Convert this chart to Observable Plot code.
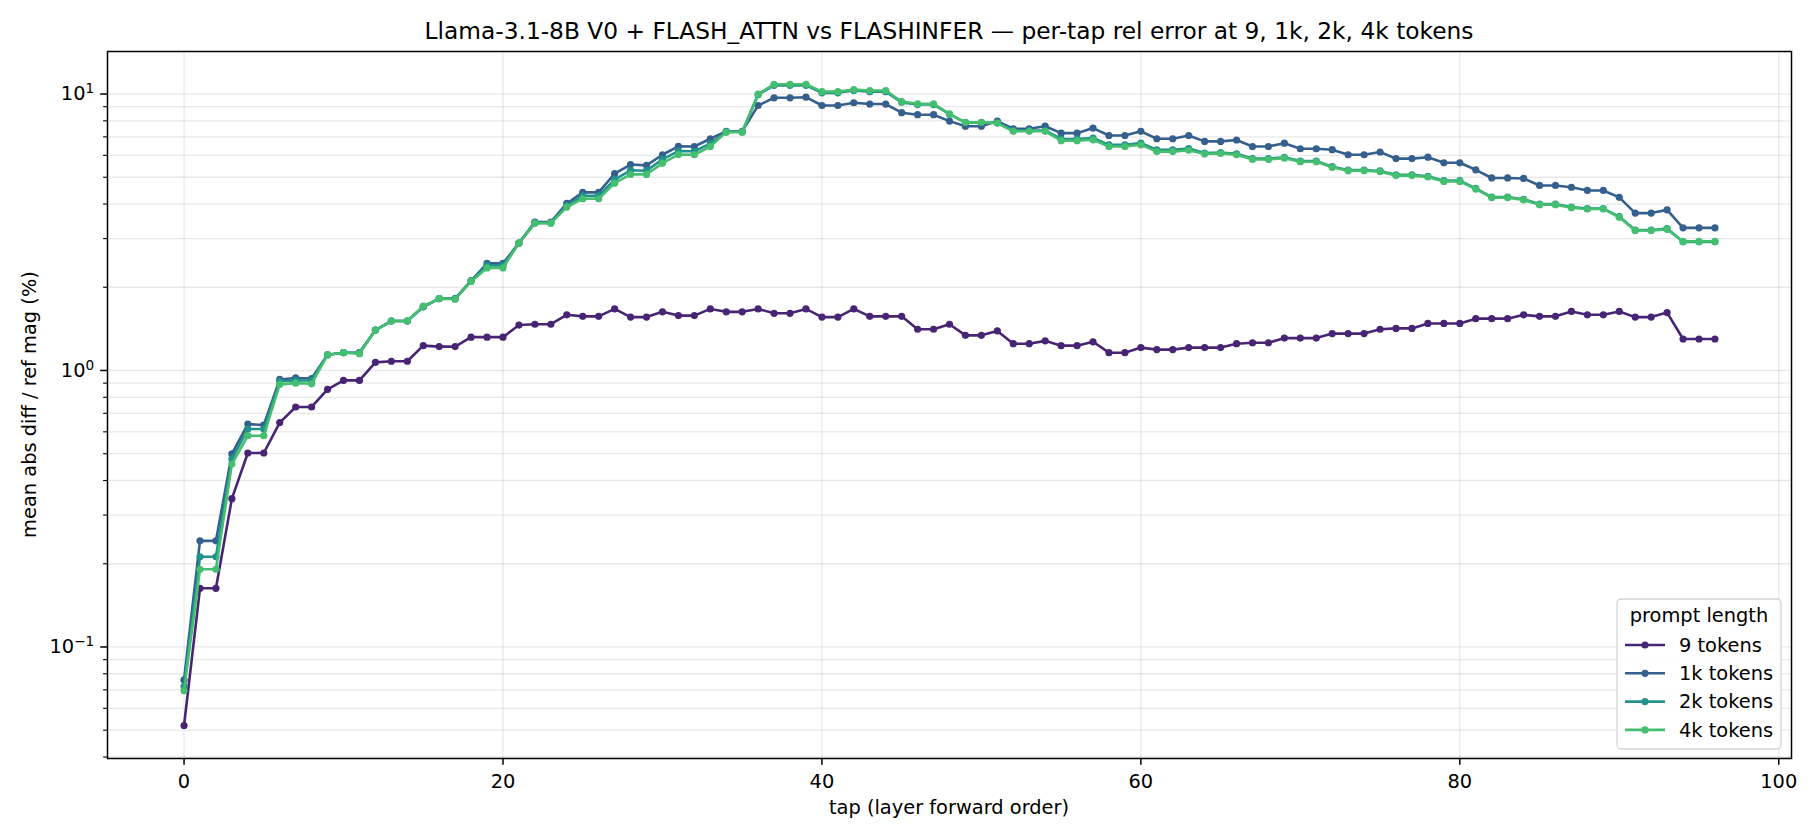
<!DOCTYPE html>
<html><head><meta charset="utf-8">
<script src="https://cdn.jsdelivr.net/npm/d3@7"></script>
<script src="https://cdn.jsdelivr.net/npm/@observablehq/plot@0.6"></script>
<style>body{margin:0;background:#fff} svg{font-family:"DejaVu Sans",sans-serif}</style>
</head><body><div id="chart"></div>
<script>
const seriesNames = ["9 tokens","1k tokens","2k tokens","4k tokens"];
const seriesColors = ["#482475","#355f8d","#21918c","#44bf70"];
const xTicks = [0,20,40,60,80,100];
const yMajor = [0.1,1,10];
const yMinor = [0.04,0.05,0.06,0.07,0.08,0.09,0.2,0.3,0.4,0.5,0.6,0.7,0.8,0.9,2,3,4,5,6,7,8,9];
const yMajorLabels = ["10^−1","10^0","10^1"];

const tok9 = [0.052,0.163,0.163,0.344,0.503,0.503,0.648,0.738,0.738,0.855,0.921,0.921,1.07,1.08,1.08,1.23,1.22,1.22,1.32,1.32,
1.32,1.46,1.47,1.47,1.59,1.57,1.57,1.67,1.56,1.56,1.63,1.58,1.58,1.67,1.63,1.63,1.67,1.61,1.61,1.67,
1.56,1.56,1.67,1.57,1.57,1.57,1.41,1.41,1.47,1.34,1.34,1.39,1.25,1.25,1.28,1.23,1.23,1.27,1.16,1.16,
1.21,1.19,1.19,1.21,1.21,1.21,1.25,1.26,1.26,1.31,1.31,1.31,1.36,1.36,1.36,1.41,1.42,1.42,1.48,1.48,
1.48,1.54,1.54,1.54,1.59,1.57,1.57,1.635,1.59,1.59,1.635,1.56,1.56,1.62,1.30,1.30,1.30];

const tok1k = [0.076,0.242,0.242,0.499,0.64,0.635,0.928,0.94,0.935,1.14,1.16,1.16,1.40,1.51,1.51,1.70,1.82,1.82,2.11,2.44,
2.44,2.89,3.44,3.44,4.02,4.41,4.41,5.15,5.56,5.52,6.03,6.47,6.46,6.89,7.33,7.33,9.09,9.69,9.69,9.74,
9.09,9.09,9.30,9.20,9.20,8.56,8.42,8.42,7.98,7.65,7.65,7.98,7.49,7.49,7.65,7.22,7.22,7.53,7.08,7.08,
7.33,6.89,6.89,7.08,6.74,6.74,6.82,6.46,6.46,6.64,6.34,6.34,6.29,6.03,6.03,6.17,5.84,5.84,5.91,5.64,
5.64,5.32,4.97,4.97,4.95,4.67,4.67,4.60,4.48,4.48,4.23,3.71,3.71,3.81,3.28,3.28,3.28];

const tok2k = [0.072,0.212,0.212,0.479,0.614,0.614,0.914,0.92,0.92,1.14,1.16,1.16,1.40,1.51,1.51,1.70,1.82,1.82,2.11,2.40,
2.40,2.89,3.42,3.42,3.95,4.28,4.28,4.90,5.30,5.28,5.80,6.22,6.21,6.62,7.30,7.30,9.95,10.75,10.75,10.75,
10.1,10.1,10.3,10.2,10.2,9.33,9.16,9.16,8.45,7.88,7.88,7.87,7.38,7.38,7.38,6.88,6.88,6.93,6.55,6.55,
6.65,6.28,6.28,6.35,6.12,6.14,6.08,5.84,5.84,5.90,5.72,5.72,5.46,5.31,5.31,5.27,5.10,5.10,5.04,4.86,
4.86,4.56,4.24,4.24,4.16,4.00,4.00,3.90,3.85,3.85,3.60,3.22,3.22,3.26,2.92,2.92,2.92];

const tok4k = [0.0695,0.191,0.191,0.459,0.581,0.581,0.891,0.90,0.895,1.14,1.16,1.15,1.40,1.51,1.51,1.71,1.82,1.81,2.10,2.35,
2.35,2.89,3.41,3.41,3.90,4.18,4.18,4.76,5.12,5.12,5.62,6.04,6.03,6.46,7.28,7.28,10.0,10.85,10.85,10.85,
10.2,10.2,10.38,10.3,10.3,9.39,9.22,9.22,8.48,7.90,7.90,7.85,7.33,7.33,7.33,6.78,6.78,6.83,6.46,6.46,
6.55,6.19,6.19,6.26,6.07,6.10,6.03,5.80,5.80,5.86,5.69,5.69,5.43,5.28,5.28,5.24,5.07,5.07,5.01,4.83,
4.83,4.53,4.22,4.22,4.14,3.98,3.98,3.88,3.84,3.84,3.58,3.21,3.21,3.24,2.93,2.93,2.93];

const seriesValues = [tok9, tok1k, tok2k, tok4k];
const rows = seriesValues.map((vals, k) => vals.map((v, i) => ({tap: i, value: v, series: seriesNames[k]})));

const seriesMarks = rows.flatMap(r => [
  Plot.line(r, {x: "tap", y: "value", stroke: "series", strokeWidth: 2.6}),
  Plot.dot(r, {x: "tap", y: "value", fill: "series", r: 3.6})
]);

const gridStyle = {stroke: "#000", strokeOpacity: 0.09, strokeWidth: 1.3};
const FS = 19.4;

const svg = Plot.plot({
  width: 1820, height: 840,
  marginLeft: 107, marginRight: 29, marginTop: 51, marginBottom: 82,
  style: {fontFamily: '"DejaVu Sans", sans-serif', fontSize: FS + "px", color: "#000", background: "#fff"},
  x: {domain: [-4.8, 100.8]},
  y: {type: "log", domain: [0.0395, 14.25]},
  color: {domain: seriesNames, range: seriesColors},
  marks: [
    Plot.gridY(yMinor.concat(yMajor), gridStyle),
    Plot.gridX(xTicks, gridStyle),
    ...seriesMarks,
    Plot.frame({stroke: "#000", strokeWidth: 1.5}),
    Plot.axisY(yMinor, {tickSize: 3.9, strokeWidth: 1.1, tickFormat: () => "", label: null}),
    Plot.axisY(yMajor, {tickSize: 6.8, strokeWidth: 1.5, tickPadding: 6.5, fontSize: FS,
      tickFormat: d => yMajorLabels[yMajor.indexOf(d)], label: null}),
    Plot.axisX(xTicks, {tickSize: 6.8, strokeWidth: 1.5, tickPadding: 9, fontSize: FS, label: null})
  ]
});

const s = d3.select(svg);
function supify(node) {
  const t = d3.select(node);
  const tx = t.text();
  if (tx.indexOf("^") > 0) {
    const [base, exp] = tx.split("^");
    t.text(base);
    const parent = node.tagName === "tspan" ? d3.select(node.parentNode) : t;
    parent.append("tspan").attr("dy", "-0.5em").attr("font-size", "13.6px").text(exp);
  }
}
s.selectAll("text").each(function() { if (d3.select(this).selectAll("tspan").empty()) supify(this); });
s.selectAll("tspan").each(function() { supify(this); });

s.append("text").attr("x", 949).attr("y", 39).attr("text-anchor", "middle")
  .attr("font-size", "23.3px").attr("fill", "#000")
  .text("Llama-3.1-8B V0 + FLASH_ATTN vs FLASHINFER — per-tap rel error at 9, 1k, 2k, 4k tokens");
s.append("text").attr("x", 949).attr("y", 814).attr("text-anchor", "middle")
  .attr("font-size", FS + "px").attr("fill", "#000").text("tap (layer forward order)");
s.append("text").attr("transform", "translate(29,404.5) rotate(-90)").attr("text-anchor", "middle")
  .attr("dy", "0.35em").attr("font-size", FS + "px").attr("fill", "#000").text("mean abs diff / ref mag (%)");

// legend
const lg = s.append("g").attr("text-anchor", "start");
lg.append("rect").attr("x", 1617).attr("y", 599).attr("width", 164).attr("height", 150)
  .attr("rx", 4).attr("fill", "#fff").attr("fill-opacity", 0.85).attr("stroke", "#d4d4d4").attr("stroke-width", 1.3);
lg.append("text").attr("x", 1699).attr("y", 622).attr("text-anchor", "middle").attr("font-size", FS + "px")
  .attr("fill", "#000").text("prompt length");
seriesNames.forEach((name, k) => {
  const cy = 645 + k * 28.3;
  lg.append("line").attr("x1", 1625).attr("x2", 1665).attr("y1", cy).attr("y2", cy)
    .attr("stroke", seriesColors[k]).attr("stroke-width", 2.6);
  lg.append("circle").attr("cx", 1645).attr("cy", cy).attr("r", 3.6).attr("fill", seriesColors[k]);
  lg.append("text").attr("x", 1679).attr("y", cy).attr("dy", "0.35em").attr("text-anchor", "start")
    .attr("font-size", FS + "px").attr("fill", "#000").text(name);
});

document.getElementById("chart").appendChild(svg);
</script>
</body></html>
